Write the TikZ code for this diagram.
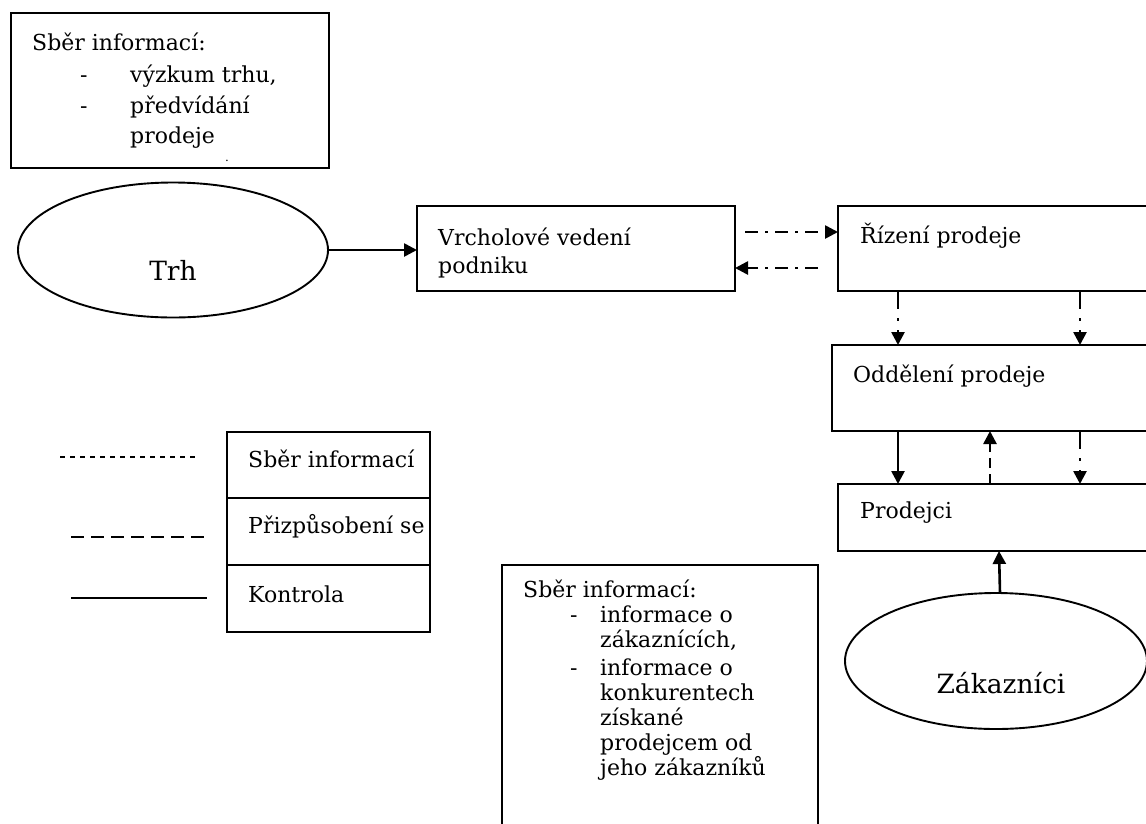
\documentclass[tikz,border=0pt]{standalone}
\usepackage{fontspec}
\setmainfont{DejaVu Serif}
\usetikzlibrary{arrows.meta,shapes.geometric,calc}
\begin{document}
\begin{tikzpicture}[x=1pt,y=-1pt,
 box/.style={draw,line width=1.9pt,inner sep=0pt,outer sep=0pt,anchor=north west},
 txt/.style={anchor=base west,inner sep=0pt,font=\fontsize{22}{26}\selectfont},
 big/.style={anchor=base,inner sep=0pt,font=\fontsize{26.5}{31}\selectfont},
 oval/.style={draw,ellipse,line width=1.9pt,inner sep=0pt,outer sep=0pt},
 tip/.style={-{Triangle[length=13pt,width=13pt]}},
 ctrl/.style={line width=2.6pt,tip},
 info/.style={line width=2.6pt,tip,dash pattern=on 13pt off 7pt on 3pt off 7pt},
 infov/.style={line width=2.6pt,tip,dash pattern=on 18pt off 9pt on 3pt off 9pt},
 adapt/.style={line width=2.6pt,tip,dash pattern=on 10pt off 6pt}]
\useasboundingbox (0,0) rectangle (1146,823);
\clip (0,0) rectangle (1146,823);
% top-left box
\node[box,minimum width=318pt,minimum height=155pt] (b1) at (11,13) {};
\node[txt] (b1a) at (32,50) {Sběr informací:};
\node[txt] (b1b) at (80,82) {-};
\node[txt] (b1c) at (130,82) {výzkum trhu,};
\node[txt] (b1d) at (80,113) {-};
\node[txt] (b1e) at (130,113) {předvídání};
\node[txt] (b1f) at (130,143) {prodeje};
\node[txt,font=\fontsize{12}{14}\selectfont] (b1g) at (225,161) {.};
% Trh
\node[oval,minimum width=310pt,minimum height=135pt] (trh) at (173,250) {};
\node[big] (trht) at (173,280) {Trh};
% Vrcholove vedeni
\node[box,minimum width=318pt,minimum height=85pt] (vr) at (417,206) {};
\node[txt] (vra) at (438,245) {Vrcholové vedení};
\node[txt] (vrb) at (438,273) {podniku};
% Rizeni prodeje
\node[box,minimum width=400pt,minimum height=85pt] (rp) at (838,206) {};
\node[txt] (rpa) at (860,243) {Řízení prodeje};
% Oddeleni prodeje
\node[box,minimum width=400pt,minimum height=86pt] (od) at (832,345) {};
\node[txt] (oda) at (853,382) {Oddělení prodeje};
% Prodejci
\node[box,minimum width=400pt,minimum height=67pt] (pr) at (838,484) {};
\node[txt] (pra) at (860,518) {Prodejci};
% Zakaznici
\node[oval,minimum width=302pt,minimum height=136pt] (zak) at (996,661) {};
\node[big] (zakt) at (1001,693) {Zákazníci};
% legend
\node[box,minimum width=203pt,minimum height=66pt] (l1) at (227,432) {};
\node[box,minimum width=203pt,minimum height=67pt] (l2) at (227,498) {};
\node[box,minimum width=203pt,minimum height=67pt] (l3) at (227,565) {};
\node[txt] (l1t) at (248,467) {Sběr informací};
\node[txt] (l2t) at (248,533) {Přizpůsobení se};
\node[txt] (l3t) at (248,602) {Kontrola};
\coordinate (s1a) at (60,457); \coordinate (s1b) at (195,457);
\coordinate (s2a) at (71,537); \coordinate (s2b) at (207,537);
\coordinate (s3a) at (71,598); \coordinate (s3b) at (207,598);
\draw[line width=1.3pt,dash pattern=on 5pt off 5pt] (s1a) -- (s1b);
\draw[line width=2.2pt,dash pattern=on 13pt off 7pt] (s2a) -- (s2b);
\draw[line width=1.8pt] (s3a) -- (s3b);
% bottom box
\node[box,minimum width=316pt,minimum height=280pt] (b2) at (502,565) {};
\node[txt] (b2a) at (523,597) {Sběr informací:};
\node[txt] (b2b) at (570,622) {-};
\node[txt] (b2c) at (600,622) {informace o};
\node[txt] (b2d) at (600,647) {zákaznících,};
\node[txt] (b2e) at (570,675) {-};
\node[txt] (b2f) at (600,675) {informace o};
\node[txt] (b2g) at (600,700) {konkurentech};
\node[txt] (b2h) at (600,725) {získané};
\node[txt] (b2i) at (600,750) {prodejcem od};
\node[txt] (b2j) at (600,775) {jeho zákazníků};
% connectors
\draw[ctrl] (trh.east) -- (trh.east -| vr.west);
\draw[info] ([xshift=10pt,yshift=-26pt]vr.north east) -- ([yshift=-26pt]rp.north west);
\draw[info] ([xshift=-20pt,yshift=-62pt]rp.north west) -- ([yshift=-62pt]vr.north east);
\draw[infov] ([xshift=60pt]rp.south west) -- ([xshift=66pt]od.north west);
\draw[infov] ([xshift=242pt]rp.south west) -- ([xshift=248pt]od.north west);
\draw[ctrl] ([xshift=66pt]od.south west) -- ([xshift=60pt]pr.north west);
\draw[adapt] ([xshift=152pt]pr.north west) -- ([xshift=158pt]od.south west);
\draw[infov] ([xshift=248pt]od.south west) -- ([xshift=242pt]pr.north west);
\draw[ctrl] ([xshift=4pt]zak.north) -- ([xshift=161pt]pr.south west);
\end{tikzpicture}
\end{document}
